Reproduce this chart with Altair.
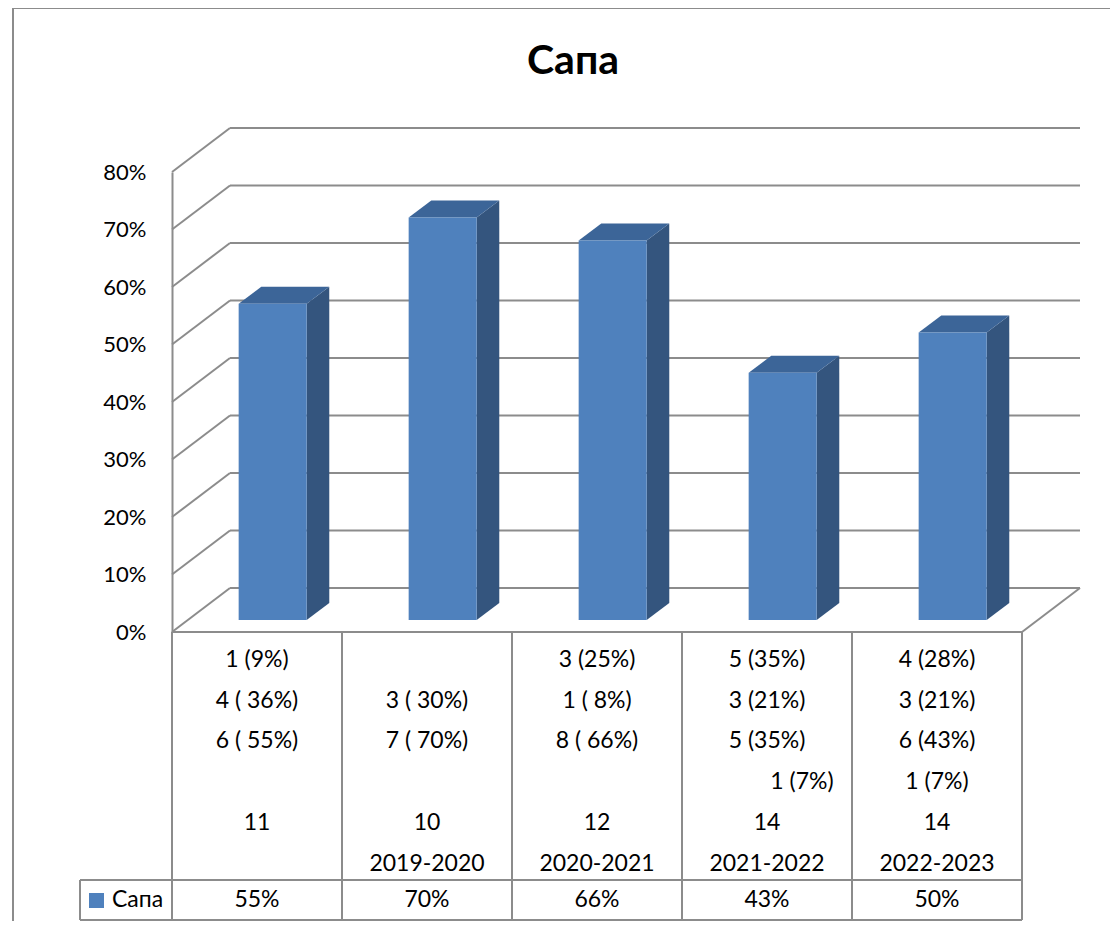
import altair as alt
import pandas as pd

# ---------------- data ----------------
categories = ["", "2019-2020", "2020-2021", "2021-2022", "2022-2023"]
values = [0.55, 0.70, 0.66, 0.43, 0.50]
value_labels = ["55%", "70%", "66%", "43%", "50%"]
totals = ["11", "10", "12", "14", "14"]
line1 = ["1 (9%)", "", "3 (25%)", "5 (35%)", "4 (28%)"]
line2 = ["4 ( 36%)", "3 ( 30%)", "1 ( 8%)", "3 (21%)", "3 (21%)"]
line3 = ["6 ( 55%)", "7 ( 70%)", "8 ( 66%)", "5 (35%)", "6 (43%)"]
line4 = ["", "", "", "1 (7%)", "1 (7%)"]
line4_shifted = [False, False, False, True, False]   # text typed with leading spaces
tick_values = [0.0, 0.1, 0.2, 0.3, 0.4, 0.5, 0.6, 0.7, 0.8]
series_name = "Сапа"
title_text = "Сапа"

# ---------------- geometry constants (layout) ----------------
PX_X = 170.0          # px per category
PX_Y = 575.0          # px per 100%
DX = 58 / PX_X        # back-wall depth in x units
DY = 44 / PX_Y        # back-wall depth in y units
F1, F2 = 0.27, 0.66   # bar front / back depth fractions
BAR_L, BAR_R = 0.3, 0.7
N = len(values)

FONT = "Lato, 'Open Sans', sans-serif"
GRID = "#8c8c8c"
FRONT = "#4f81bd"
SIDE = "#34557e"
TOP = "#3c6598"

xs = alt.Scale(domain=[0, N], nice=False, zero=False)
ys = alt.Scale(domain=[0, 0.8], nice=False, zero=False)
yax = alt.Axis(values=tick_values, format=".0%", labelFont=FONT, labelFontSize=22,
               labelColor="#000000", domainColor=GRID, domainWidth=2, ticks=False,
               grid=False, labelPadding=26, title=None)


def X(f):
    return alt.X(f, type="quantitative", scale=xs, axis=None)


def Y(f):
    return alt.Y(f, type="quantitative", scale=ys, axis=yax)


def pv(page_y):
    # page pixel row -> value units (below the floor gives negatives)
    return (632 - page_y) / PX_Y


# ---------------- lines: back wall, side wall, floor, table ----------------
seg = []
for t in tick_values:
    seg.append(dict(x=DX, x2=N + DX, y=t + DY, y2=t + DY))      # back wall grid
    seg.append(dict(x=0, x2=DX, y=t, y2=t + DY))                # side wall diagonal
seg.append(dict(x=N, x2=N + DX, y=0, y2=DY))                    # floor right edge
seg.append(dict(x=0, x2=N, y=0, y2=0))                          # floor front / table top
row_line, table_bottom = pv(880), pv(920)
legend_left = -92 / PX_X
for k in range(N + 1):
    seg.append(dict(x=k, x2=k, y=0, y2=table_bottom))
seg.append(dict(x=legend_left, x2=N, y=row_line, y2=row_line))
seg.append(dict(x=legend_left, x2=N, y=table_bottom, y2=table_bottom))
seg.append(dict(x=legend_left, x2=legend_left, y=row_line, y2=table_bottom))
seg_df = pd.DataFrame(seg)

lines = alt.Chart(seg_df).mark_rule(color=GRID, strokeWidth=2).encode(
    x=X("x"), x2="x2", y=Y("y"), y2="y2")

# ---------------- 3D bars ----------------
dd = (F2 - F1) * DX
dv = (F2 - F1) * DY
front_rows, side_rows, top_rows = [], [], []
for i, v in enumerate(values):
    x0 = i + BAR_L + F1 * DX
    x1 = i + BAR_R + F1 * DX
    b = F1 * DY
    t = v + F1 * DY
    front_rows.append(dict(id=i, x=x0, x2=x1, y=b, y2=t))
    side_rows += [dict(id=i, x=x1, ya=b, yb=t),
                  dict(id=i, x=x1 + dd, ya=b + dv, yb=t + dv)]
    top_rows += [dict(id=i, x=x0, ya=t, yb=t),
                 dict(id=i, x=x0 + dd, ya=t, yb=t + dv),
                 dict(id=i, x=x1, ya=t, yb=t + dv),
                 dict(id=i, x=x1 + dd, ya=t + dv, yb=t + dv)]

front = alt.Chart(pd.DataFrame(front_rows)).mark_rect(color=FRONT).encode(
    x=X("x"), x2="x2", y=Y("y"), y2="y2")
side = alt.Chart(pd.DataFrame(side_rows)).mark_area(color=SIDE, opacity=1).encode(
    x=X("x"), y=Y("ya"), y2="yb", detail="id:N")
top = alt.Chart(pd.DataFrame(top_rows)).mark_area(color=TOP, opacity=1).encode(
    x=X("x"), y=Y("ya"), y2="yb", detail="id:N")

# ---------------- data table text ----------------
row_y = [660, 700.5, 741, 782, 823, 864]
txt, txt_shift = [], []
for i in range(N):
    for r, lab in enumerate([line1[i], line2[i], line3[i], line4[i], totals[i], categories[i]]):
        if not lab:
            continue
        rec = dict(x=i + 0.5, y=pv(row_y[r]), label=lab)
        if r == 3 and line4_shifted[i]:
            txt_shift.append(rec)
        else:
            txt.append(rec)
    txt.append(dict(x=i + 0.5, y=pv(900), label=value_labels[i]))

text_style = dict(font=FONT, fontSize=23, color="#000000", align="center", baseline="middle")
table_text = alt.Chart(pd.DataFrame(txt)).mark_text(**text_style).encode(
    x=X("x"), y=Y("y"), text="label:N")
table_text_shift = alt.Chart(pd.DataFrame(txt_shift)).mark_text(dx=35, **text_style).encode(
    x=X("x"), y=Y("y"), text="label:N")

# legend key in the table
legend_df = pd.DataFrame({"name": [series_name]})
legend_box = alt.Chart(legend_df).mark_rect(color=FRONT).encode(
    x=alt.value(89 - 172), x2=alt.value(104 - 172),
    y=alt.value(893 - 172), y2=alt.value(908 - 172))
legend_txt = alt.Chart(legend_df).mark_text(
    font=FONT, fontSize=23, color="#000000", align="left", baseline="middle"
).encode(x=alt.value(112 - 172), y=alt.value(900 - 172), text="name:N")

# title
title_df = pd.DataFrame({"t": [title_text]})
title = alt.Chart(title_df).mark_text(
    font=FONT, fontSize=41, fontWeight="bold", color="#000000",
    align="center", baseline="middle"
).encode(x=alt.value(573 - 172), y=alt.value(62 - 172), text="t:N")

# outer frame
frame = alt.Chart(title_df).mark_rect(fill=None, stroke=GRID, strokeWidth=2).encode(
    x=alt.value(13 - 172), x2=alt.value(1140 - 172),
    y=alt.value(8 - 172), y2=alt.value(960 - 172))

chart = alt.layer(
    frame, lines, side, top, front, table_text, table_text_shift,
    legend_box, legend_txt, title
).properties(
    width=850, height=460,
    background="#ffffff",
    padding={"left": 164, "top": 164, "right": 88, "bottom": 289},
    autosize=alt.AutoSizeParams(type="none"),
).configure_view(stroke=None)

chart.save("out.html", embed_options={"renderer": "svg", "actions": False})
